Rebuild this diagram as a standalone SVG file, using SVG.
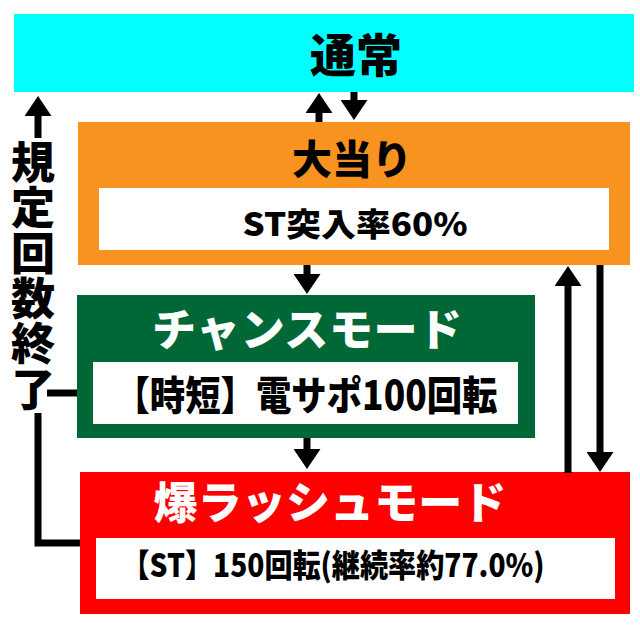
<svg xmlns="http://www.w3.org/2000/svg" width="640" height="629" viewBox="0 0 640 629">
<defs>
<marker id="ah" markerUnits="userSpaceOnUse" markerWidth="20" markerHeight="27" viewBox="0 0 20 27" refX="0" refY="13.5" orient="auto">
<path d="M0,0 L20,13.5 L0,27 Z" fill="#000"/>
</marker>
<style>
.t{font-family:"Noto Sans CJK JP","Noto Sans",sans-serif;font-weight:900;text-anchor:middle}
.k{fill:#000}
.w{fill:#fff}
.v{font-family:"Noto Sans CJK JP","Noto Sans",sans-serif;font-weight:900;writing-mode:vertical-rl;text-anchor:start}
.ln{stroke:#000;stroke-width:7;fill:none}
.ar{stroke:#000;stroke-width:7;fill:none;marker-end:url(#ah)}
</style>
</defs>
<rect width="640" height="629" fill="#fff"/>
<g id="normal">
<rect x="14" y="14" width="620" height="78" fill="#00FFFF"/>
<text class="t k" x="356" y="72" font-size="46">通常</text>
</g>
<g id="jackpot">
<rect x="78" y="122" width="552" height="143" fill="#F7931E"/>
<text class="t k" x="352" y="174" font-size="40">大当り</text>
<rect x="99" y="188" width="510" height="62" fill="#fff"/>
<text class="t k" x="355" y="236" font-size="32" textLength="225" lengthAdjust="spacingAndGlyphs">ST突入率60%</text>
</g>
<g id="chance">
<rect x="77" y="295" width="458" height="143" fill="#006837"/>
<text class="t w" x="307" y="346" font-size="44" textLength="310" lengthAdjust="spacing">チャンスモード</text>
<rect x="93" y="362" width="425" height="62" fill="#fff"/>
<text class="t k" x="306" y="410" font-size="40" textLength="383" lengthAdjust="spacingAndGlyphs">【時短】電サポ100回転</text>
</g>
<g id="rush">
<rect x="80" y="472" width="550" height="142" fill="#FF0000"/>
<text class="t w" x="330" y="519" font-size="44" textLength="353" lengthAdjust="spacing">爆ラッシュモード</text>
<rect x="96" y="538" width="519" height="61" fill="#fff"/>
<text class="t k" x="333" y="577" font-size="32" textLength="423" lengthAdjust="spacingAndGlyphs">【ST】150回転(継続率約77.0%)</text>
</g>
<g id="label">
<text class="v k" x="33" y="140" font-size="44" letter-spacing="1.4">規定回数終了</text>
</g>
<g id="connectors">
<path class="ar" d="M319,122 L319,113"/>
<path class="ar" d="M354,92 L354,100"/>
<path class="ar" d="M307,265 L307,274"/>
<path class="ar" d="M307,438 L307,449"/>
<path class="ar" d="M568,473 L568,286"/>
<path class="ar" d="M600,265 L600,452"/>
<path class="ar" d="M38,138 L38,116"/>
<path class="ln" d="M47,393 L77,393"/>
<path class="ln" d="M38,413 L38,543 L80,543"/>
</g>
</svg>
